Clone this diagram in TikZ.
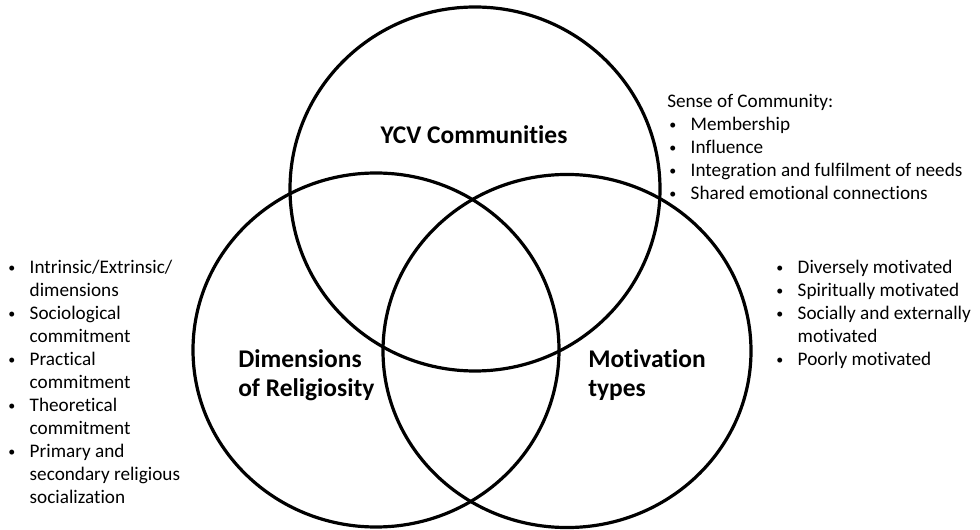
\documentclass[tikz,border=0pt]{standalone}
\usepackage{fontspec}
\setmainfont[Ligatures=NoCommon]{Carlito}
\newcommand{\bul}{\makebox[17.6pt][l]{\hspace{1.5pt}\raisebox{1.3pt}{\fontsize{10.5}{10.5}\selectfont•}}}
\begin{document}
\begin{tikzpicture}[x=0.75pt,y=-0.75pt,
  circ/.style={draw=black, line width=2.4pt},
  lbl/.style={font=\fontsize{19.1}{21.3}\selectfont\bfseries, inner sep=0},
  lst/.style={font=\fontsize{14.4}{17.25}\selectfont, inner sep=0, anchor=base west}]
\useasboundingbox (0,0) rectangle (980,530);
\draw[circ] (475,189) ellipse [x radius=138.75pt, y radius=136.5pt];
\draw[circ] (376,350) ellipse [x radius=137.25pt, y radius=132.75pt];
\draw[circ] (567,351) ellipse [x radius=138pt, y radius=132.4pt];

\node[lbl, anchor=base] (ycv) at (474,144) {YCV Communities};
\node[lbl, anchor=base west] (dim) at (238,368) {\begin{tabular}[t]{@{}l@{}}Dimensions\\ of Religiosity\end{tabular}};
\node[lbl, anchor=base west] (mot) at (588,368) {\begin{tabular}[t]{@{}l@{}}Motivation\\ types\end{tabular}};

\node[lst] (left) at (6,274) {\begin{tabular}[t]{@{}l@{}l@{}}
\bul & Intrinsic/Extrinsic/\\
 & dimensions\\
\bul & Sociological\\
 & commitment\\
\bul & Practical\\
 & commitment\\
\bul & Theoretical\\
 & commitment\\
\bul & Primary and\\
 & secondary religious\\
 & socialization
\end{tabular}};

\node[lst] (soc) at (667,108) {\begin{tabular}[t]{@{}l@{}l@{}}
\multicolumn{2}{@{}l@{}}{Sense of Community:}\\
\bul & Membership\\
\bul & Influence\\
\bul & Integration and fulfilment of needs\\
\bul & Shared emotional connections
\end{tabular}};

\node[lst] (right) at (774,274) {\begin{tabular}[t]{@{}l@{}l@{}}
\bul & Diversely motivated\\
\bul & Spiritually motivated\\
\bul & Socially and externally\\
 & motivated\\
\bul & Poorly motivated
\end{tabular}};
\end{tikzpicture}
\end{document}
